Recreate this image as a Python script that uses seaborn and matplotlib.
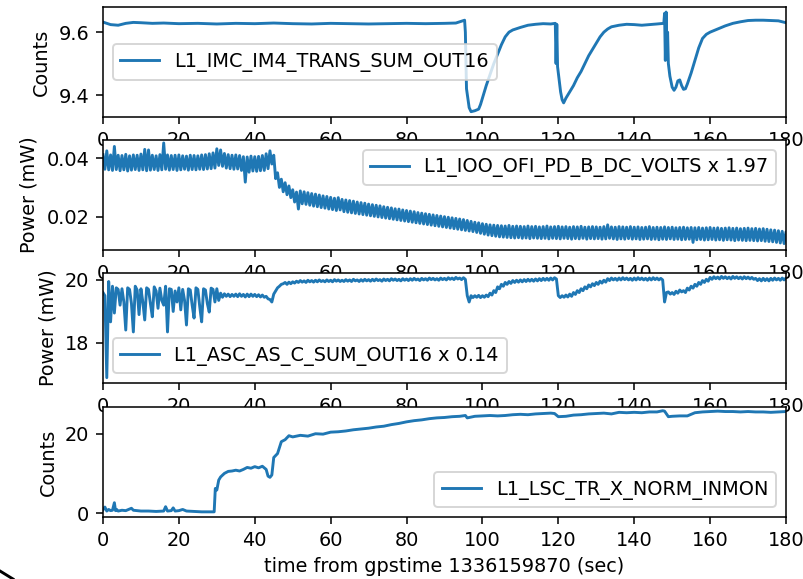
import numpy as np
import matplotlib
matplotlib.use("Agg")
import matplotlib.pyplot as plt
import seaborn as sns
from matplotlib.lines import Line2D

# ---- channel names ----
imc_label = "L1_IMC_IM4_TRANS_SUM_OUT16"
ofi_label = "L1_IOO_OFI_PD_B_DC_VOLTS x 1.97"
asc_label = "L1_ASC_AS_C_SUM_OUT16 x 0.14"
tr_label = "L1_LSC_TR_X_NORM_INMON"
x_label = "time from gpstime 1336159870 (sec)"

# ---- IMC transmitted sum (Counts) ----
imc_t = [0, 2, 4, 6, 8, 10, 13, 16, 20, 25, 30, 35, 40, 45, 50, 55, 60, 65, 70, 75,
         80, 85, 90, 93, 95.3, 95.5, 95.8, 96.5, 97, 98, 99, 99.5, 100, 101, 102, 103,
         104, 105, 106, 107, 108, 110, 112, 114, 116, 118, 119.2, 119.4, 119.6, 119.8,
         120.2, 120.6, 121, 121.4, 122, 123, 124, 125, 126, 127, 128, 129, 130, 131,
         132, 133, 134, 136, 138, 140, 142, 144, 146, 147.8, 148.0, 148.2, 148.4, 148.6,
         148.8, 149.0, 149.4, 150, 150.5, 151, 151.5, 152, 152.5, 153, 153.5, 154, 155,
         156, 157, 158, 159, 160, 162, 164, 166, 168, 170, 172, 174, 176, 178, 180]
imc_v = [9.632, 9.624, 9.622, 9.628, 9.631, 9.630, 9.628, 9.629, 9.627, 9.628, 9.626,
         9.628, 9.627, 9.629, 9.627, 9.626, 9.628, 9.627, 9.626, 9.627, 9.628, 9.627,
         9.628, 9.629, 9.638, 9.600, 9.420, 9.360, 9.347, 9.350, 9.355, 9.370, 9.390,
         9.430, 9.465, 9.500, 9.530, 9.560, 9.585, 9.600, 9.607, 9.615, 9.622, 9.625,
         9.627, 9.626, 9.628, 9.500, 9.625, 9.490, 9.450, 9.410, 9.385, 9.375, 9.390,
         9.410, 9.430, 9.455, 9.475, 9.500, 9.525, 9.545, 9.565, 9.585, 9.600, 9.610,
         9.617, 9.622, 9.625, 9.624, 9.622, 9.624, 9.626, 9.628, 9.660, 9.510, 9.664,
         9.520, 9.600, 9.500, 9.460, 9.425, 9.415, 9.425, 9.445, 9.448, 9.430, 9.418,
         9.420, 9.435, 9.470, 9.510, 9.550, 9.580, 9.593, 9.600, 9.610, 9.620, 9.628,
         9.633, 9.637, 9.638, 9.638, 9.637, 9.636, 9.630]

# ---- OFI PD (mW): samples at whole seconds (a) and half seconds (b) ----
ofi_a = [0.0412, 0.0425, 0.0411, 0.0440, 0.0410, 0.0409, 0.0413, 0.0408, 0.0411, 0.0410,
         0.0414, 0.0430, 0.0428, 0.0410, 0.0408, 0.0412, 0.0452, 0.0411, 0.0409, 0.0410,
         0.0411, 0.0408, 0.0407, 0.0410, 0.0409, 0.0408, 0.0411, 0.0412, 0.0415, 0.0418,
         0.0432, 0.0428, 0.0416, 0.0412, 0.0410, 0.0411, 0.0409, 0.0405, 0.0404, 0.0407,
         0.0405, 0.0406, 0.0409, 0.0415, 0.0425, 0.0410, 0.0350, 0.0328, 0.0316, 0.0305,
         0.0292, 0.0284, 0.0288, 0.0285, 0.0282, 0.0279, 0.0277, 0.0274, 0.0271, 0.0269,
         0.0266, 0.0263, 0.0265, 0.0259, 0.0257, 0.0255, 0.0253, 0.0250, 0.0248, 0.0246,
         0.0243, 0.0241, 0.0239, 0.0237, 0.0234, 0.0232, 0.0230, 0.0227, 0.0226, 0.0223,
         0.0221, 0.0219, 0.0217, 0.0214, 0.0212, 0.0210, 0.0208, 0.0206, 0.0204, 0.0202,
         0.0200, 0.0198, 0.0196, 0.0194, 0.0192, 0.0190, 0.0187, 0.0184, 0.0181, 0.0179,
         0.0176, 0.0174, 0.0172, 0.0171, 0.0170, 0.0169, 0.0168, 0.0170, 0.0167, 0.0168,
         0.0167, 0.0166, 0.0168, 0.0166, 0.0167, 0.0165, 0.0166, 0.0168, 0.0165, 0.0166,
         0.0167, 0.0165, 0.0166, 0.0164, 0.0166, 0.0165, 0.0167, 0.0164, 0.0165, 0.0166,
         0.0165, 0.0164, 0.0166, 0.0172, 0.0165, 0.0164, 0.0166, 0.0165, 0.0164, 0.0166,
         0.0164, 0.0165, 0.0163, 0.0164, 0.0166, 0.0163, 0.0164, 0.0163, 0.0165, 0.0163,
         0.0164, 0.0162, 0.0163, 0.0164, 0.0162, 0.0163, 0.0162, 0.0163, 0.0161, 0.0162,
         0.0163, 0.0161, 0.0162, 0.0160, 0.0161, 0.0162, 0.0160, 0.0161, 0.0159, 0.0160,
         0.0161, 0.0159, 0.0160, 0.0158, 0.0159, 0.0157, 0.0155, 0.0154, 0.0152, 0.0150,
         0.0148]
ofi_b = [0.0362, 0.0360, 0.0358, 0.0361, 0.0357, 0.0360, 0.0356, 0.0359, 0.0361, 0.0358,
         0.0360, 0.0357, 0.0359, 0.0361, 0.0358, 0.0360, 0.0362, 0.0359, 0.0361, 0.0358,
         0.0360, 0.0362, 0.0359, 0.0361, 0.0360, 0.0362, 0.0361, 0.0363, 0.0364, 0.0366,
         0.0375, 0.0372, 0.0366, 0.0364, 0.0362, 0.0363, 0.0358, 0.0318, 0.0352, 0.0356,
         0.0355, 0.0357, 0.0358, 0.0364, 0.0380, 0.0330, 0.0300, 0.0285, 0.0275, 0.0265,
         0.0250, 0.0226, 0.0244, 0.0242, 0.0239, 0.0236, 0.0234, 0.0231, 0.0229, 0.0226,
         0.0224, 0.0221, 0.0223, 0.0217, 0.0215, 0.0213, 0.0211, 0.0209, 0.0207, 0.0205,
         0.0203, 0.0201, 0.0199, 0.0197, 0.0195, 0.0193, 0.0191, 0.0189, 0.0187, 0.0185,
         0.0183, 0.0181, 0.0179, 0.0177, 0.0175, 0.0173, 0.0171, 0.0169, 0.0167, 0.0165,
         0.0163, 0.0161, 0.0159, 0.0157, 0.0155, 0.0153, 0.0151, 0.0149, 0.0146, 0.0143,
         0.0140, 0.0137, 0.0135, 0.0133, 0.0131, 0.0130, 0.0129, 0.0128, 0.0127, 0.0128,
         0.0126, 0.0127, 0.0125, 0.0127, 0.0126, 0.0125, 0.0126, 0.0124, 0.0126, 0.0125,
         0.0124, 0.0126, 0.0125, 0.0123, 0.0125, 0.0124, 0.0126, 0.0123, 0.0125, 0.0124,
         0.0125, 0.0123, 0.0124, 0.0126, 0.0124, 0.0122, 0.0124, 0.0123, 0.0125, 0.0123,
         0.0124, 0.0122, 0.0123, 0.0124, 0.0122, 0.0123, 0.0121, 0.0123, 0.0122, 0.0124,
         0.0122, 0.0123, 0.0121, 0.0122, 0.0123, 0.0112, 0.0121, 0.0122, 0.0120, 0.0121,
         0.0122, 0.0120, 0.0121, 0.0119, 0.0121, 0.0120, 0.0118, 0.0120, 0.0119, 0.0118,
         0.0119, 0.0118, 0.0117, 0.0118, 0.0116, 0.0115, 0.0114, 0.0112, 0.0110, 0.0108,
         0.0106]

# ---- ASC AS C sum (mW): whole seconds (a) and half seconds (b) ----
asc_a = [19.60, 16.90, 18.67, 18.95, 19.70, 19.72, 18.41, 19.70, 18.35, 19.68,
         19.72, 18.73, 19.70, 18.83, 19.65, 19.74, 19.20, 18.35, 19.70, 19.65,
         19.75, 19.70, 18.57, 19.68, 18.79, 19.70, 18.67, 19.68, 18.98, 19.70,
         19.72, 19.58, 19.56, 19.55, 19.54, 19.55, 19.56, 19.54, 19.55, 19.55,
         19.54, 19.53, 19.52, 19.48, 19.38, 19.55, 19.75, 19.86, 19.92, 19.93,
         19.94, 19.96, 19.98, 19.97, 19.99, 19.98, 19.99, 20.00, 19.98, 20.00,
         19.99, 20.01, 20.00, 19.99, 20.01, 20.00, 20.02, 20.00, 20.01, 20.02,
         20.01, 20.02, 20.03, 20.01, 20.03, 20.02, 20.04, 20.03, 20.02, 20.04,
         20.03, 20.04, 20.05, 20.03, 20.05, 20.04, 20.06, 20.05, 20.04, 20.06,
         20.05, 20.07, 20.06, 20.08, 20.06, 20.07, 19.50, 19.50, 19.50, 19.51,
         19.50, 19.52, 19.58, 19.66, 19.78, 19.86, 19.92, 19.95, 19.98, 19.99,
         20.00, 20.01, 20.02, 20.02, 20.03, 20.04, 20.05, 20.05, 20.06, 20.07,
         19.50, 19.50, 19.52, 19.55, 19.60, 19.66, 19.72, 19.78, 19.84, 19.88,
         19.92, 19.96, 19.99, 20.04, 20.06, 20.05, 20.06, 20.07, 20.06, 20.05,
         20.06, 20.07, 20.06, 20.05, 20.06, 20.07, 20.06, 20.05, 19.30, 19.62,
         19.60, 19.64, 19.68, 19.66, 19.74, 19.80, 19.86, 19.92, 19.98, 20.02,
         20.08, 20.10, 20.09, 20.11, 20.10, 20.09, 20.11, 20.10, 20.09, 20.10,
         20.09, 20.08, 20.05, 20.04, 20.05, 20.04, 20.05, 20.06, 20.05, 20.06,
         20.06]
asc_b = [19.50, 19.95, 19.80, 19.75, 19.20, 19.30, 19.75, 19.25, 19.80, 18.90,
         19.30, 19.75, 19.25, 19.78, 19.10, 19.35, 19.80, 19.72, 19.00, 19.30,
         19.05, 19.35, 19.72, 19.20, 19.75, 19.15, 19.72, 19.25, 19.74, 19.30,
         19.35, 19.45, 19.48, 19.47, 19.48, 19.47, 19.48, 19.46, 19.47, 19.48,
         19.47, 19.46, 19.45, 19.40, 19.30, 19.65, 19.80, 19.88, 19.86, 19.88,
         19.90, 19.92, 19.93, 19.92, 19.94, 19.93, 19.94, 19.95, 19.94, 19.95,
         19.94, 19.96, 19.95, 19.95, 19.96, 19.95, 19.97, 19.95, 19.96, 19.97,
         19.96, 19.97, 19.98, 19.96, 19.98, 19.97, 19.99, 19.98, 19.97, 19.99,
         19.98, 19.99, 20.00, 19.98, 20.00, 19.99, 20.01, 20.00, 19.99, 20.01,
         20.00, 20.02, 20.01, 20.03, 20.01, 20.02, 19.30, 19.44, 19.45, 19.44,
         19.45, 19.47, 19.52, 19.60, 19.72, 19.80, 19.86, 19.89, 19.92, 19.93,
         19.94, 19.95, 19.96, 19.96, 19.97, 19.98, 19.99, 19.99, 20.00, 20.03,
         19.44, 19.45, 19.46, 19.48, 19.54, 19.60, 19.66, 19.72, 19.78, 19.82,
         19.86, 19.90, 19.93, 19.98, 20.00, 19.99, 20.00, 20.01, 20.00, 19.99,
         20.00, 20.01, 20.00, 19.99, 20.00, 20.01, 20.00, 20.00, 19.60, 19.55,
         19.54, 19.58, 19.62, 19.60, 19.68, 19.74, 19.80, 19.86, 19.92, 19.96,
         20.02, 20.04, 20.03, 20.05, 20.04, 20.03, 20.05, 20.04, 20.03, 20.04,
         20.03, 20.02, 19.98, 19.97, 19.98, 19.97, 19.99, 20.00, 19.99, 20.00,
         20.00]

# ---- TR X norm (Counts) ----
tr_t = [0, 0.5, 1, 1.5, 2, 2.5, 3, 3.3, 3.6, 4, 5, 6, 7, 7.5, 8, 9, 10, 12, 14, 16,
        16.5, 17, 18, 18.5, 19, 20, 21, 22, 24, 26, 28, 29.3, 29.6, 30, 30.5, 31, 32,
        33, 34, 35, 36, 37, 38, 39, 40, 41, 42, 43, 43.5, 44, 44.5, 45, 45.5, 46, 47,
        48, 49, 50, 52, 54, 56, 58, 60, 62, 64, 66, 68, 70, 72, 74, 76, 78, 80, 82, 84,
        86, 88, 90, 92, 94, 95.5, 96, 98, 100, 102, 104, 106, 108, 110, 112, 114, 116,
        118, 119, 120, 122, 124, 126, 128, 130, 132, 134, 136, 138, 140, 142, 144, 146,
        147.5, 148, 149, 150, 152, 154, 156, 158, 160, 162, 164, 166, 168, 170, 172,
        174, 176, 178, 180]
tr_v = [0.8, 1.5, 0.5, 0.9, 0.6, 0.7, 2.6, 0.6, 0.9, 0.5, 0.7, 0.6, 1.0, 1.2, 0.7, 0.6,
        0.5, 0.5, 0.4, 0.5, 1.6, 0.5, 0.6, 1.3, 0.5, 0.6, 0.9, 0.5, 0.4, 0.3, 0.3, 0.3,
        6.2, 5.8, 8.3, 9.1, 10.0, 10.5, 10.6, 10.8, 10.6, 11.0, 11.5, 11.3, 11.7, 11.4,
        11.8, 11.0, 9.3, 9.0, 9.6, 14.0, 14.5, 15.0, 18.0, 18.5, 19.5, 19.2, 19.6, 19.4,
        20.0, 19.9, 20.4, 20.5, 20.7, 21.0, 21.2, 21.4, 21.7, 21.9, 22.3, 22.6, 23.0,
        23.3, 23.5, 23.8, 24.0, 24.1, 24.3, 24.4, 24.6, 24.0, 24.4, 24.5, 24.6, 24.5,
        24.6, 24.8, 24.9, 24.8, 25.0, 25.1, 25.2, 25.1, 24.3, 24.4, 24.7, 24.8, 25.0,
        25.1, 25.2, 25.0, 25.4, 25.3, 25.4, 25.3, 25.5, 25.5, 25.8, 25.7, 24.3, 24.4,
        24.5, 24.5, 25.3, 25.5, 25.6, 25.7, 25.6, 25.6, 25.5, 25.6, 25.5, 25.5, 25.4,
        25.5, 25.6]


def interleave(a, b):
    # a sits on whole seconds, b half a second later
    sec = np.arange(len(a), dtype=float)
    t = np.empty(2 * len(a))
    v = np.empty(2 * len(a))
    t[0::2], t[1::2] = sec, sec + 0.5
    v[0::2], v[1::2] = a, b
    return t, v


ofi_t, ofi_v = interleave(ofi_a, ofi_b)
asc_t, asc_v = interleave(asc_a, asc_b)

dpi = 139
fig = plt.figure(figsize=(804 / dpi, 579 / dpi), dpi=dpi)
left, width, height = 0.1281, 0.8495, 0.19
bottoms = [0.7979, 0.5682, 0.3385, 0.1071]
axes = [fig.add_axes([left, b, width, height]) for b in bottoms]

panels = [
    (imc_t, imc_v, imc_label, "Counts", "center left", (9.33, 9.68), [9.4, 9.6]),
    (ofi_t, ofi_v, ofi_label, "Power (mW)", "upper right", (0.0086, 0.0462), [0.02, 0.04]),
    (asc_t, asc_v, asc_label, "Power (mW)", "lower left", (16.73, 20.22), [18, 20]),
    (tr_t, tr_v, tr_label, "Counts", "lower right", (-1.0, 26.75), [0, 20]),
]

for ax, (t, v, lab, ylab, loc, ylim, yt) in zip(axes, panels):
    sns.lineplot(x=t, y=v, ax=ax, label=lab, estimator=None, sort=False,
                 color="#1f77b4", linewidth=1.5)
    ax.set_xlim(0, 180)
    ax.set_xticks(range(0, 181, 20))
    ax.set_ylim(*ylim)
    ax.set_yticks(yt)
    ax.set_ylabel(ylab)
    ax.legend(loc=loc)

axes[-1].set_xlabel(x_label)

# stray mark in the bottom-left corner of the screenshot
fig.add_artist(Line2D([0, 13 / 804], [1 - 571 / 579, 0], color="k", lw=1.5,
                      transform=fig.transFigure))

fig.savefig("out.png", dpi=dpi)
